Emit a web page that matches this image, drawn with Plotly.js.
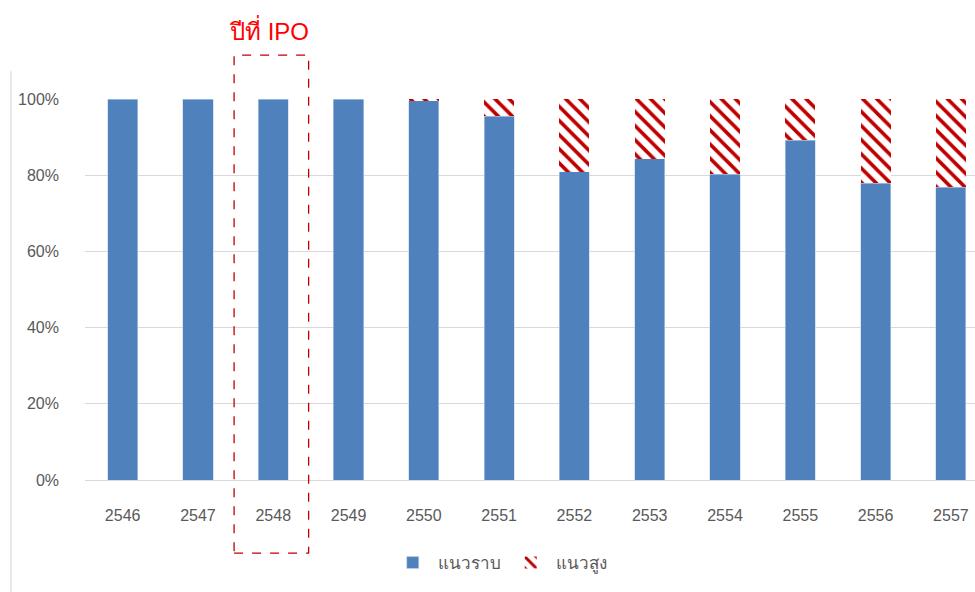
<!DOCTYPE html>
<html>
<head>
<meta charset="utf-8">
<script src="https://cdn.plot.ly/plotly-3.0.1.min.js"></script>
<style>html,body{margin:0;padding:0;background:#fff;}#chart{width:975px;height:592px;}</style>
</head>
<body>
<div id="chart"></div>
<script>
// Years (Thai Buddhist calendar)
const years = ['2546','2547','2548','2549','2550','2551','2552','2553','2554','2555','2556','2557'];
// Share of low-rise projects (%)
const lowRise = [100, 100, 100, 100, 99.5, 95.5, 80.9, 84.3, 80.2, 89.2, 77.9, 76.9];
// Share of high-rise projects (%)
const highRise = [0, 0, 0, 0, 0.5, 4.5, 19.1, 15.7, 19.8, 10.8, 22.1, 23.1];
const ipoYear = '2548';

const tickFont = {family: 'Liberation Sans, Arial, sans-serif', size: 16, color: '#595959'};

const traces = [
  {
    type: 'bar', name: 'แนวราบ', x: years, y: lowRise,
    marker: {color: '#4F81BD', line: {color: '#c5d5ea', width: 0.6}}
  },
  {
    type: 'bar', name: 'แนวสูง', x: years, y: highRise,
    marker: {
      color: '#ffffff',
      line: {width: 0},
      pattern: {shape: '\\', fgcolor: '#C00000', bgcolor: '#ffffff', size: 10, solidity: 0.36}
    }
  }
];

const ipoIdx = years.indexOf(ipoYear);

const layout = {
  width: 975, height: 592,
  barmode: 'stack',
  bargap: 0.6,
  showlegend: true,
  legend: {
    orientation: 'h', traceorder: 'normal',
    x: 0.466, xanchor: 'center', y: -0.218, yanchor: 'middle',
    font: {family: 'Liberation Sans, Arial, sans-serif', size: 17, color: '#595959'},
    itemwidth: 40, tracegroupgap: 0
  },
  margin: {l: 85, r: 0, t: 99, b: 112},
  paper_bgcolor: '#ffffff', plot_bgcolor: '#ffffff',
  xaxis: {
    type: 'category', range: [-0.5, 11.32],
    showgrid: false, zeroline: false, showline: false, ticks: '',
    tickfont: tickFont, ticklabelstandoff: 24
  },
  yaxis: {
    range: [0, 100], dtick: 20, ticksuffix: '%',
    showgrid: true, gridcolor: '#d9d9d9', gridwidth: 1,
    zeroline: true, zerolinecolor: '#d9d9d9', zerolinewidth: 1,
    showline: false, ticks: '', tickfont: tickFont, ticklabelstandoff: 25
  },
  shapes: [
    // IPO year highlight box
    {type: 'rect', xref: 'x', yref: 'paper', x0: ipoIdx - 0.52, x1: ipoIdx + 0.47, y0: -0.192, y1: 1.115,
     line: {color: '#C00000', width: 1.3, dash: 'dash'}, fillcolor: 'rgba(0,0,0,0)'},
    // chart frame left edge
    {type: 'line', xref: 'paper', yref: 'paper', x0: -0.0832, x1: -0.0832, y0: 1.073, y1: -0.3,
     line: {color: '#d9d9d9', width: 1.2}}
  ],
  annotations: [
    {xref: 'x', yref: 'paper', x: ipoIdx - 0.06, y: 1.181, yanchor: 'middle', text: 'ปีที่ IPO', showarrow: false,
     font: {family: 'Liberation Sans, Arial, sans-serif', size: 24, color: '#ff0000'}}
  ]
};

Plotly.newPlot('chart', traces, layout, {displayModeBar: false, staticPlot: true});
</script>
</body>
</html>
